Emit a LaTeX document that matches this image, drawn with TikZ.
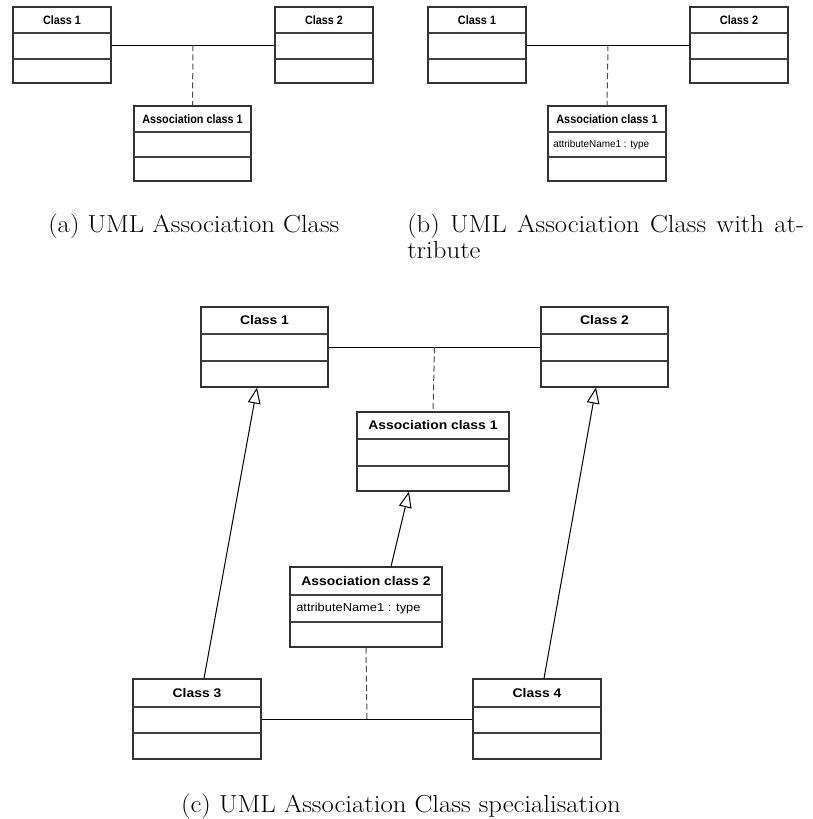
\documentclass[tikz,border=0pt]{standalone}
\usepackage{fontspec}
\usepackage{graphicx}
\usetikzlibrary{fit,calc,arrows.meta}
\newfontfamily\umlfont{Liberation Sans}
\newcommand\tsx{1}
\newcommand\umlbox[8]{%
  \node[classbox, fit={(#2,#3) (#4,#5)}] (#1) {};
  \draw[divider] (#2,#6) -- (#4,#6);
  \draw[divider] (#2,#7) -- (#4,#7);
  \node[titlefont] (#1-t) at ($(#2,#3)!0.5!(#4,#6)$) {\scalebox{\tsx}[1]{#8}};
}
\begin{document}
\begin{tikzpicture}[x=0.75pt,y=-0.75pt,
  classbox/.style={draw=black!80, line width=0.8pt, inner sep=0pt},
  divider/.style={draw=black!75, line width=0.8pt},
  assoc/.style={draw=black, line width=0.75pt},
  assocdash/.style={draw=black!70, line width=0.75pt, dash pattern=on 4.5pt off 2.5pt},
  gen/.style={draw=black, line width=0.75pt, -{Triangle[open, length=12pt, width=9.5pt, fill=white]}},
  titlesmall/.style={font=\umlfont\bfseries\fontsize{9.1}{10}\selectfont, inner sep=0pt},
  titlebig/.style={font=\umlfont\bfseries\fontsize{9.4}{11}\selectfont, inner sep=0pt},
  attrsmall/.style={font=\umlfont\fontsize{7.6}{9}\selectfont, inner sep=0pt, anchor=west},
  attrbig/.style={font=\umlfont\fontsize{8.7}{10}\selectfont, inner sep=0pt, anchor=west},
  caption/.style={font=\fontsize{18.5}{22}\selectfont, inner sep=0pt}
]
\useasboundingbox (0,0) rectangle (813,819);

% ---------- (a)
\begin{scope}[titlefont/.style={titlesmall}]
\renewcommand\tsx{0.89}
\umlbox{a1}{13}{7}{111}{83}{33}{59}{Class 1}
\umlbox{a2}{275}{7}{373}{83}{33}{59}{Class 2}
\umlbox{a3}{134}{106}{251}{181}{132}{157}{Association class 1}
\end{scope}
\draw[assoc] (a1.east) -- (a2.west);
\coordinate (am) at ($(a1.east)!0.5!(a2.west)$);
\draw[assocdash] (am) -- (a3.north);

% ---------- (b)
\begin{scope}[titlefont/.style={titlesmall}]
\renewcommand\tsx{0.9}
\umlbox{b1}{428}{7}{526}{83}{33}{59}{Class 1}
\umlbox{b2}{690}{7}{788}{83}{33}{59}{Class 2}
\umlbox{b3}{548}{106}{666}{181}{132}{157}{Association class 1}
\end{scope}
\node[attrsmall] (b3-a) at (553,145) {\scalebox{0.98}[1]{attributeName1 : type}};
\draw[assoc] (b1.east) -- (b2.west);
\coordinate (bm) at ($(b1.east)!0.5!(b2.west)$);
\draw[assocdash] (bm) -- (b3.north);

% ---------- (c)
\begin{scope}[titlefont/.style={titlebig}]
\renewcommand\tsx{1.11}
\umlbox{c1}{201}{307}{328}{387}{334}{361}{Class 1}
\umlbox{c2}{541}{307}{668}{387}{334}{361}{Class 2}
\umlbox{c5}{357}{412}{509}{491}{439}{466}{Association class 1}
\umlbox{c6}{290}{567}{442}{647}{595}{622}{Association class 2}
\umlbox{c3}{133}{679}{261}{759}{707}{733}{Class 3}
\umlbox{c4}{473}{679}{601}{759}{707}{733}{Class 4}
\end{scope}
\node[attrbig] (c6-a) at (296,608.5) {\scalebox{1.11}[1]{attributeName1 : type}};
\draw[assoc] (c1.east) -- (c2.west);
\coordinate (cm1) at ($(c1.east)!0.5!(c2.west)$);
\draw[assocdash] (cm1) -- (c5.north);
\draw[assoc] (c3.east) -- (c4.west);
\coordinate (cm2) at ($(c3.east)!0.5!(c4.west)$);
\draw[assocdash] (c6.south) -- (cm2);
\draw[gen] ([xshift=5.25pt]c3.north) -- ([xshift=-5.6pt]c1.south);
\draw[gen] ([xshift=5.25pt]c4.north) -- ([xshift=-6.4pt]c2.south);
\draw[gen] ([xshift=18.75pt]c6.north) -- ([xshift=-18pt]c5.south);

% ---------- captions
\node[caption, anchor=base west] (capa) at (48,232) {\scalebox{1.085}[1]{(a) UML Association Class}};
\node[caption, anchor=base west] (capb1) at (407,232) {\scalebox{1.085}[1]{\makebox[274.4pt][s]{(b) UML Association Class with at-}}};
\node[caption, anchor=base west] (capb2) at (407,258) {\scalebox{1.085}[1]{tribute}};
\node[caption, anchor=base] (capc) at (401,812) {\scalebox{1.085}[1]{(c) UML Association Class specialisation}};
\end{tikzpicture}
\end{document}
